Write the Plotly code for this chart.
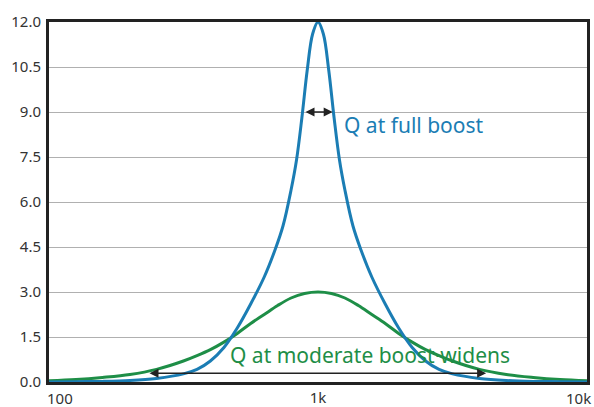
import plotly.graph_objects as go

# Frequencies (Hz) and gain values
freq = [100, 126, 158, 200, 251, 316, 355, 398, 447, 501, 562, 631, 692, 741, 794,
        832, 871, 912, 955, 1000, 1047, 1096, 1148, 1202, 1259, 1349, 1445, 1585,
        1778, 1995, 2239, 2512, 2818, 3162, 3981, 5012, 6310, 7943, 10000]

full_boost = [0.0, 0.01, 0.02, 0.05, 0.12, 0.27, 0.42, 0.7, 1.15, 1.8, 2.6, 3.5, 4.4,
              5.2, 6.4, 7.4, 8.8, 10.4, 11.6, 12.0, 11.6, 10.4, 8.8, 7.4, 6.4, 5.2,
              4.4, 3.5, 2.6, 1.8, 1.15, 0.7, 0.42, 0.27, 0.12, 0.05, 0.02, 0.01, 0.0]

green_freq = [100, 126, 158, 200, 251, 316, 355, 398, 447, 501, 562, 631, 708, 794,
              891, 1000, 1122, 1259, 1413, 1585, 1778, 1995, 2239, 2512, 2818, 3162,
              3981, 5012, 6310, 7943, 10000]
moderate_boost = [0.04, 0.08, 0.15, 0.25, 0.42, 0.70, 0.88, 1.08, 1.33, 1.62, 1.95,
                  2.25, 2.55, 2.8, 2.95, 3.0, 2.95, 2.8, 2.55, 2.25, 1.95, 1.62, 1.33,
                  1.08, 0.88, 0.70, 0.42, 0.25, 0.15, 0.08, 0.04]

y_ticks = [0.0, 1.5, 3.0, 4.5, 6.0, 7.5, 9.0, 10.5, 12.0]
x_tick_labels = ["100", "1k", "10k"]

BLUE = "#1b7db4"
GREEN = "#1e8e47"
FONT = "Noto Sans"

fig = go.Figure()
fig.add_trace(go.Scatter(x=green_freq, y=moderate_boost, mode="lines",
                         line=dict(color=GREEN, width=3, shape="spline"),
                         hoverinfo="skip", showlegend=False))
fig.add_trace(go.Scatter(x=freq, y=full_boost, mode="lines",
                         line=dict(color=BLUE, width=3, shape="spline"),
                         hoverinfo="skip", showlegend=False))

# arrows
fig.add_annotation(x=3.0547, y=9.0, ax=2.948, ay=9.0, xref="x", yref="y",
                   axref="x", ayref="y", text="", showarrow=True,
                   arrowside="end+start", arrowhead=2, arrowsize=1.2,
                   arrowwidth=1.5, arrowcolor="#222", standoff=0, startstandoff=0)
fig.add_annotation(x=3.625, y=0.29, ax=2.368, ay=0.29, xref="x", yref="y",
                   axref="x", ayref="y", text="", showarrow=True,
                   arrowside="end+start", arrowhead=2, arrowsize=1.2,
                   arrowwidth=1.5, arrowcolor="#222", standoff=0, startstandoff=0)

# labels
fig.add_annotation(x=3.089, y=8.56, xref="x", yref="y", text="Q at full boost",
                   showarrow=False, xanchor="left", yanchor="middle",
                   font=dict(family=FONT, size=21, color=BLUE))
fig.add_annotation(x=2.665, y=0.89, xref="x", yref="y",
                   text="Q at moderate boost·widens",
                   showarrow=False, xanchor="left", yanchor="middle",
                   font=dict(family=FONT, size=21, color=GREEN))

# edge x tick labels (shifted inward as in the reference)
fig.add_annotation(x=0, y=0, xref="paper", yref="paper", text=x_tick_labels[0],
                   showarrow=False, xanchor="left", yanchor="middle", yshift=-16,
                   xshift=-3, borderpad=0,
                   font=dict(family=FONT, size=15, color="#333"))
fig.add_annotation(x=1, y=0, xref="paper", yref="paper", text=x_tick_labels[2],
                   showarrow=False, xanchor="right", yanchor="middle", yshift=-16,
                   xshift=5, borderpad=0,
                   font=dict(family=FONT, size=15, color="#333"))

fig.update_layout(
    width=594, height=407,
    margin=dict(l=49, r=7, t=22, b=25),
    paper_bgcolor="white", plot_bgcolor="white",
    font=dict(family=FONT, size=15, color="#333"),
    showlegend=False,
)
fig.update_xaxes(type="log", range=[2, 4], tickvals=[1000], ticktext=[x_tick_labels[1]],
                 showgrid=False, zeroline=False, showline=True, mirror=True,
                 linecolor="#222", linewidth=3, ticks="", layer="below traces",
                 automargin=False, ticklabelstandoff=0)
fig.update_yaxes(range=[0, 12], tickvals=y_ticks, tickformat=".1f",
                 showgrid=True, gridcolor="#b0b0b0", gridwidth=1,
                 zeroline=False, showline=True, mirror=True,
                 linecolor="#222", linewidth=3, ticks="", layer="below traces",
                 automargin=False, ticklabelstandoff=2)

fig.write_html(
    "out.html",
    config={"displayModeBar": False},
    post_script="document.body.style.margin='0';document.body.style.overflow='hidden';",
)
